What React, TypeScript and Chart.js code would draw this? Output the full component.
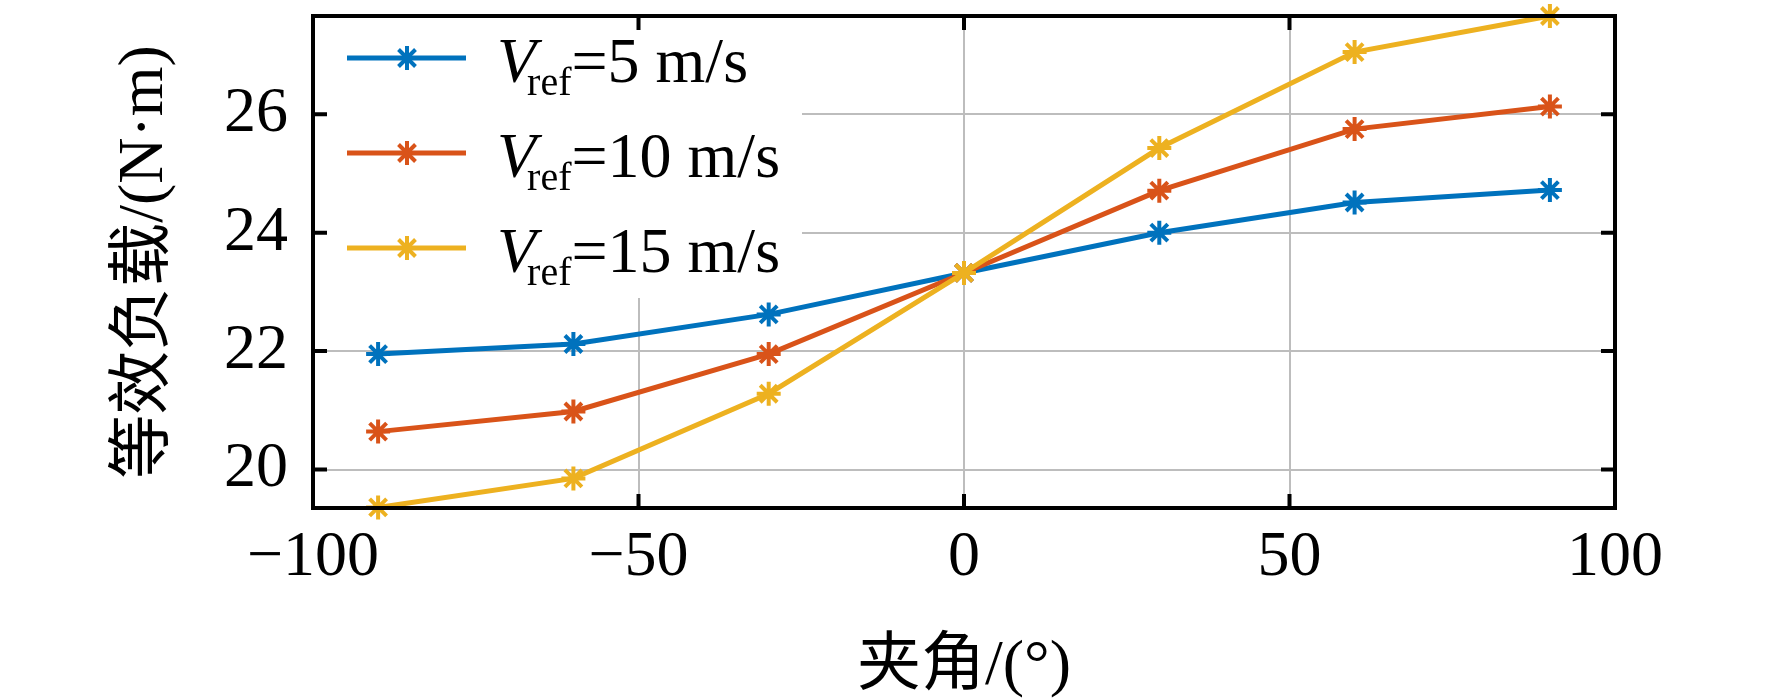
import React, { useEffect, useRef } from "react";
import { Chart, registerables } from "chart.js";

Chart.register(...registerables);

// 夹角 (deg) on the x axis
const angles = [-90, -60, -30, 0, 30, 60, 90];
// 等效负载 (N·m) for each reference wind speed
const load5 = [21.95, 22.12, 22.62, 23.32, 24.0, 24.51, 24.72];
const load10 = [20.64, 20.98, 21.95, 23.32, 24.71, 25.75, 26.13];
const load15 = [19.36, 19.85, 21.28, 23.32, 25.43, 27.05, 27.66];

const seriesNames = ["=5 m/s", "=10 m/s", "=15 m/s"];
const seriesColors = ["#0072BD", "#D95319", "#EDB120"];

const xTicks = [-100, -50, 0, 50, 100];
const yTicks = [20, 22, 24, 26];

const yTitle = "等效负载/(N·m)";
const xTitle = "夹角/(°)";

const FONT = '"Liberation Serif", "Times New Roman", "Noto Sans CJK SC", serif';

const frame = {
    id: "frame",
    beforeDatasetsDraw(chart: any) {
        const { ctx, chartArea } = chart;
        // legend background hides the grid behind it
        ctx.save();
        ctx.fillStyle = "#ffffff";
        ctx.fillRect(chartArea.left + 2, chartArea.top + 2, 800 - chartArea.left, 296 - chartArea.top);
        ctx.restore();
    },
    afterDraw(chart: any) {
        const { ctx, chartArea, scales } = chart;
        const { left, right, top, bottom } = chartArea;
        ctx.save();

        // legend
        const sets = chart.data.datasets;
        for (let i = 0; i < sets.length; i++) {
            const y = 58 + i * 95;
            ctx.strokeStyle = seriesColors[i];
            ctx.lineWidth = 5;
            ctx.beginPath();
            ctx.moveTo(347, y);
            ctx.lineTo(466, y);
            ctx.stroke();
            drawStar(ctx, 407, y, 12, seriesColors[i]);

            ctx.fillStyle = "#000";
            ctx.textBaseline = "alphabetic";
            ctx.textAlign = "left";
            ctx.font = `italic 64px ${FONT}`;
            const vx = 497;
            ctx.fillText("V", vx, y + 24);
            const refX = vx + ctx.measureText("V").width * 0.77;
            ctx.font = `40px ${FONT}`;
            ctx.fillText("ref", refX, y + 37);
            const eqX = refX + ctx.measureText("ref").width;
            ctx.font = `64px ${FONT}`;
            ctx.fillText(seriesNames[i], eqX, y + 24);
        }

        // inward tick marks on all four sides
        ctx.strokeStyle = "#000";
        ctx.lineWidth = 4;
        const tl = 14;
        xTicks.forEach((v) => {
            const px = scales.x.getPixelForValue(v);
            ctx.beginPath();
            ctx.moveTo(px, bottom);
            ctx.lineTo(px, bottom - tl);
            ctx.moveTo(px, top);
            ctx.lineTo(px, top + tl);
            ctx.stroke();
        });
        yTicks.forEach((v) => {
            const py = scales.y.getPixelForValue(v);
            ctx.beginPath();
            ctx.moveTo(left, py);
            ctx.lineTo(left + tl, py);
            ctx.moveTo(right, py);
            ctx.lineTo(right - tl, py);
            ctx.stroke();
        });
        ctx.strokeRect(left, top, right - left, bottom - top);

        // axis titles
        ctx.fillStyle = "#000";
        ctx.font = `64px ${FONT}`;
        ctx.textAlign = "center";
        ctx.textBaseline = "middle";
        ctx.fillText(xTitle, (left + right) / 2, 667);
        ctx.translate(145, (top + bottom) / 2);
        ctx.rotate(-Math.PI / 2);
        ctx.fillText(yTitle, 0, 0);
        ctx.restore();
    },
};

function drawStar(ctx: CanvasRenderingContext2D, x: number, y: number, r: number, color: string) {
    ctx.save();
    ctx.strokeStyle = color;
    ctx.lineWidth = 4;
    ctx.beginPath();
    for (let k = 0; k < 4; k++) {
        const a = (k * Math.PI) / 4;
        ctx.moveTo(x + Math.cos(a) * r, y + Math.sin(a) * r);
        ctx.lineTo(x - Math.cos(a) * r, y - Math.sin(a) * r);
    }
    ctx.stroke();
    ctx.restore();
}

const App: React.FC = () => {
    const chartRef = useRef<HTMLCanvasElement | null>(null);

    useEffect(() => {
        document.body.style.margin = "0";
        if (chartRef.current === null) return;
        const ctx = chartRef.current.getContext("2d");
        if (ctx === null) return;

        const series = [load5, load10, load15];
        const chart = new Chart(ctx, {
            type: "line",
            data: {
                datasets: series.map((vals, i) => ({
                    data: angles.map((a, j) => ({ x: a, y: vals[j] })),
                    borderColor: seriesColors[i],
                    borderWidth: 5,
                    pointStyle: "star",
                    pointRadius: 12,
                    pointBorderWidth: 4,
                    pointBorderColor: seriesColors[i],
                    pointBackgroundColor: seriesColors[i],
                    tension: 0,
                    fill: false,
                    clip: false as any,
                    order: 2 - i,
                })),
            },
            options: {
                responsive: false,
                animation: false,
                devicePixelRatio: 1,
                layout: { padding: { left: 0, right: 157, top: 12, bottom: 0 } },
                plugins: {
                    legend: { display: false },
                    tooltip: { enabled: false },
                },
                scales: {
                    x: {
                        type: "linear",
                        min: -100,
                        max: 100,
                        afterFit: (s: any) => {
                            s.height = 191;
                            s.paddingLeft = 0;
                            s.paddingRight = 0;
                        },
                        afterBuildTicks: (s: any) => { s.ticks = xTicks.map((v) => ({ value: v })); },
                        grid: { color: "#bdbdbd", lineWidth: 2, drawTicks: false },
                        border: { display: false },
                        ticks: {
                            padding: 12,
                            color: "#000",
                            font: { family: FONT, size: 64 },
                            callback: (v: any) => String(v).replace("-", "\u2212"),
                        },
                    },
                    y: {
                        type: "linear",
                        min: 19.35,
                        max: 27.66,
                        afterFit: (s: any) => {
                            s.width = 313;
                            s.paddingTop = 0;
                            s.paddingBottom = 0;
                        },
                        afterBuildTicks: (s: any) => { s.ticks = yTicks.map((v) => ({ value: v })); },
                        grid: { color: "#bdbdbd", lineWidth: 2, drawTicks: false },
                        border: { display: false },
                        ticks: {
                            padding: 25,
                            color: "#000",
                            font: { family: FONT, size: 64 },
                        },
                    },
                },
            },
            plugins: [frame],
        });

        return () => {
            chart.destroy();
        };
    }, []);

    return (
        <div>
            <canvas ref={chartRef} width={1772} height={699} style={{ display: "block" }}></canvas>
        </div>
    );
};

export default App;
